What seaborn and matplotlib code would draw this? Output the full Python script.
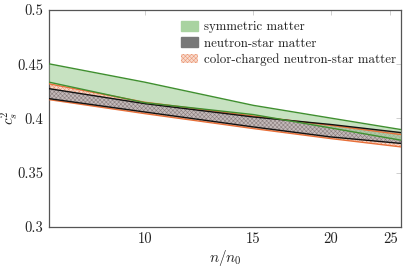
import numpy as np
import pandas as pd
import matplotlib
matplotlib.use("Agg")
import matplotlib.pyplot as plt
import seaborn as sns
from matplotlib.patches import Patch
from matplotlib.ticker import FixedLocator, FixedFormatter, NullLocator

# ---- data ----
n_over_n0 = [7, 10, 15, 20, 26]
sym_upper = [0.4504, 0.4335, 0.4121, 0.4004, 0.3898]
sym_lower = [0.4335, 0.4146, 0.4036, 0.3913, 0.3800]
ns_upper = [0.4275, 0.4137, 0.4014, 0.3945, 0.3870]
ns_lower = [0.4183, 0.4060, 0.3922, 0.3830, 0.3770]
cc_upper = [0.4320, 0.4150, 0.4023, 0.3937, 0.3852]
cc_lower = [0.4174, 0.4045, 0.3907, 0.3815, 0.3738]

labels = ["symmetric matter", "neutron-star matter", "color-charged neutron-star matter"]
x_ticks = [10, 15, 20, 25]
x_ticklabels = ["10", "15", "20", "25"]
y_ticks = [0.3, 0.35, 0.4, 0.45, 0.5]
y_ticklabels = ["0.3", "0.35", "0.4", "0.45", "0.5"]

sns.set_theme(style="white")
plt.rcParams["font.family"] = ["cmr10", "DejaVu Serif"]
plt.rcParams["mathtext.fontset"] = "cm"
plt.rcParams["axes.formatter.use_mathtext"] = True
plt.rcParams["hatch.linewidth"] = 0.4

fig = plt.figure(figsize=(4.15, 2.67), dpi=100)
ax = fig.add_axes([0.118, 0.150, 0.848, 0.8125])

df = pd.DataFrame({"n": n_over_n0,
                   "sym_u": sym_upper, "sym_l": sym_lower,
                   "ns_u": ns_upper, "ns_l": ns_lower,
                   "cc_u": cc_upper, "cc_l": cc_lower})

green_line = "#3f8f2f"
green_fill = "#a9d3a0"
orange_line = "#e8703a"
gray_line = "#111111"

# color-charged band (orange hatched)
ax.fill_between(df["n"], df["cc_l"], df["cc_u"], facecolor="#f8dccf",
                edgecolor="#ec9a78", hatch="xxxxxxxx", linewidth=0, zorder=1)
# neutron-star band (gray hatched)
ax.fill_between(df["n"], df["ns_l"], df["ns_u"], facecolor="#c4baba",
                edgecolor="#8a7e7e", hatch="xxxxxxxx", linewidth=0, zorder=2)
# symmetric band (green)
ax.fill_between(df["n"], df["sym_l"], df["sym_u"], facecolor=green_fill,
                alpha=0.65, linewidth=0, zorder=3)

for col in ["cc_u", "cc_l"]:
    sns.lineplot(data=df, x="n", y=col, ax=ax, color=orange_line, lw=1.0, zorder=4)
for col in ["ns_u", "ns_l"]:
    sns.lineplot(data=df, x="n", y=col, ax=ax, color=gray_line, lw=1.0, zorder=5)
for col in ["sym_u", "sym_l"]:
    sns.lineplot(data=df, x="n", y=col, ax=ax, color=green_line, lw=1.0, zorder=6)

ax.set_xscale("log")
ax.set_xlim(7, 26)
ax.set_ylim(0.3, 0.5)
ax.xaxis.set_major_locator(FixedLocator(x_ticks))
ax.xaxis.set_major_formatter(FixedFormatter(x_ticklabels))
ax.xaxis.set_minor_locator(NullLocator())
ax.yaxis.set_major_locator(FixedLocator(y_ticks))
ax.yaxis.set_major_formatter(FixedFormatter(y_ticklabels))

ax.tick_params(axis="both", which="major", direction="in", length=3.5,
               width=0.6, color="#c8c8c8", labelsize=10.5, labelcolor="#222222",
               top=True, right=True, pad=4)
for s in ax.spines.values():
    s.set_color("#555555")
    s.set_linewidth(0.9)

ax.set_xlabel(r"$n/n_0$", fontsize=11, color="#222222", labelpad=1)
ax.set_ylabel("")
fig.text(10 / 415, 1 - 118 / 267, r"$c_s^2$", rotation=90, fontsize=11,
         color="#222222", ha="center", va="center")
ax.grid(False)

handles = [
    Patch(facecolor=green_fill, edgecolor=green_fill),
    Patch(facecolor="#777777", edgecolor="#777777"),
    Patch(facecolor="#f8dccf", edgecolor="#ec9a78", hatch="xxxxxxxx", linewidth=0),
]
leg = ax.legend(handles, labels, loc="upper right", frameon=False, fontsize=9.3,
                handlelength=1.3, handleheight=0.75, handletextpad=0.45,
                labelspacing=0.3, borderaxespad=0.0, bbox_to_anchor=(1.0, 0.972))
for t in leg.get_texts():
    t.set_color("#222222")

fig.savefig("out.png", dpi=100)
